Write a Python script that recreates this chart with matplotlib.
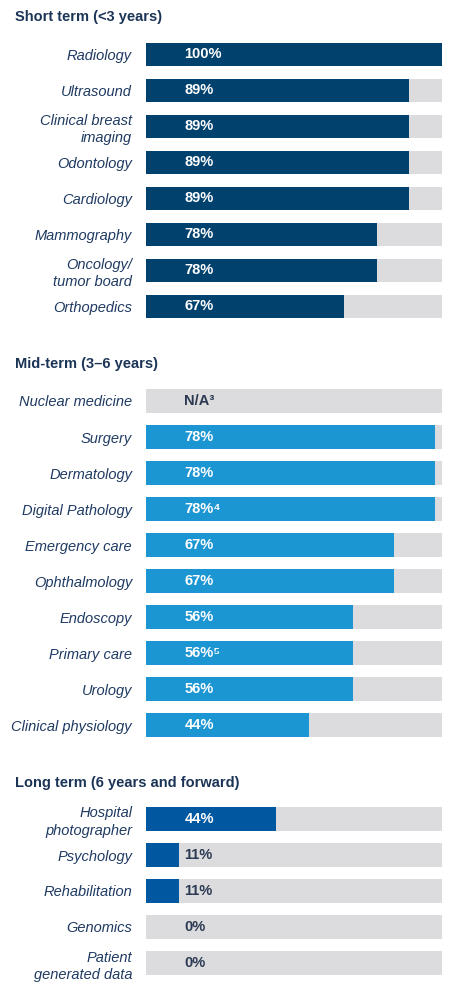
import matplotlib
matplotlib.use('Agg')
import matplotlib.pyplot as plt

plt.rcParams['font.family'] = ['Liberation Sans', 'DejaVu Sans']

# data
short_cats = ['Radiology', 'Ultrasound', 'Clinical breast\nimaging', 'Odontology',
              'Cardiology', 'Mammography', 'Oncology/\ntumor board', 'Orthopedics']
short_vals = [100, 89, 89, 89, 89, 78, 78, 67]
short_notes = [''] * 8

mid_cats = ['Nuclear medicine', 'Surgery', 'Dermatology', 'Digital Pathology',
            'Emergency care', 'Ophthalmology', 'Endoscopy', 'Primary care',
            'Urology', 'Clinical physiology']
mid_vals = [None, 78, 78, 78, 67, 67, 56, 56, 56, 44]
mid_notes = ['\u00b3', '', '', '\u2074', '', '', '', '\u2075', '', '']

long_cats = ['Hospital\nphotographer', 'Psychology', 'Rehabilitation', 'Genomics',
             'Patient\ngenerated data']
long_vals = [44, 11, 11, 0, 0]
long_notes = [''] * 5

W, H = 476, 998
TRACK = '#dcdcde'
LABEL_C = '#1f3a62'
DARK_TXT = '#2b3a52'

fig = plt.figure(figsize=(W / 100, H / 100), dpi=100)


def section(title, title_y, top, cats, vals, notes, color, xmax):
    n = len(cats)
    x0, x1 = 146, 442
    bottom = top + n * 36
    ax = fig.add_axes([x0 / W, 1 - bottom / H, (x1 - x0) / W, (bottom - top) / H])
    ys = list(range(n))
    ax.barh(ys, [xmax] * n, height=0.64, color=TRACK, left=0)
    ax.barh(ys, [v if v is not None else 0 for v in vals], height=0.64, color=color)
    ax.set_xlim(0, xmax)
    ax.set_ylim(n - 0.5, -0.5)
    ax.set_yticks(ys)
    ax.set_yticklabels(cats, fontsize=10.5, style='italic', color=LABEL_C,
                       linespacing=1.3)
    ax.tick_params(axis='y', length=0, pad=10)
    ax.set_xticks([])
    for s in ax.spines.values():
        s.set_visible(False)
    tr = ax.get_yaxis_transform()
    for y, v, nt in zip(ys, vals, notes):
        if v is None:
            txt, c = 'N/A' + nt, DARK_TXT
        else:
            txt = f'{v}%' + nt
            c = 'white' if v > 15 else DARK_TXT
        ax.text(0.13, y, txt, transform=tr, ha='left', va='center',
                fontsize=10.5, fontweight='bold', color=c)
    fig.text(15 / W, 1 - title_y / H, title, ha='left', va='center',
             fontsize=10.5, fontweight='bold', color='#1c3557')
    return ax


section('Short term (<3 years)', 17, 36.5, short_cats, short_vals, short_notes,
        '#00416e', 100)
section('Mid-term (3\u20136 years)', 364, 383, mid_cats, mid_vals, mid_notes,
        '#1b96d2', 80)
section('Long term (6 years and forward)', 783, 801, long_cats, long_vals, long_notes,
        '#0059a0', 100)

fig.savefig('out.png', dpi=100)
